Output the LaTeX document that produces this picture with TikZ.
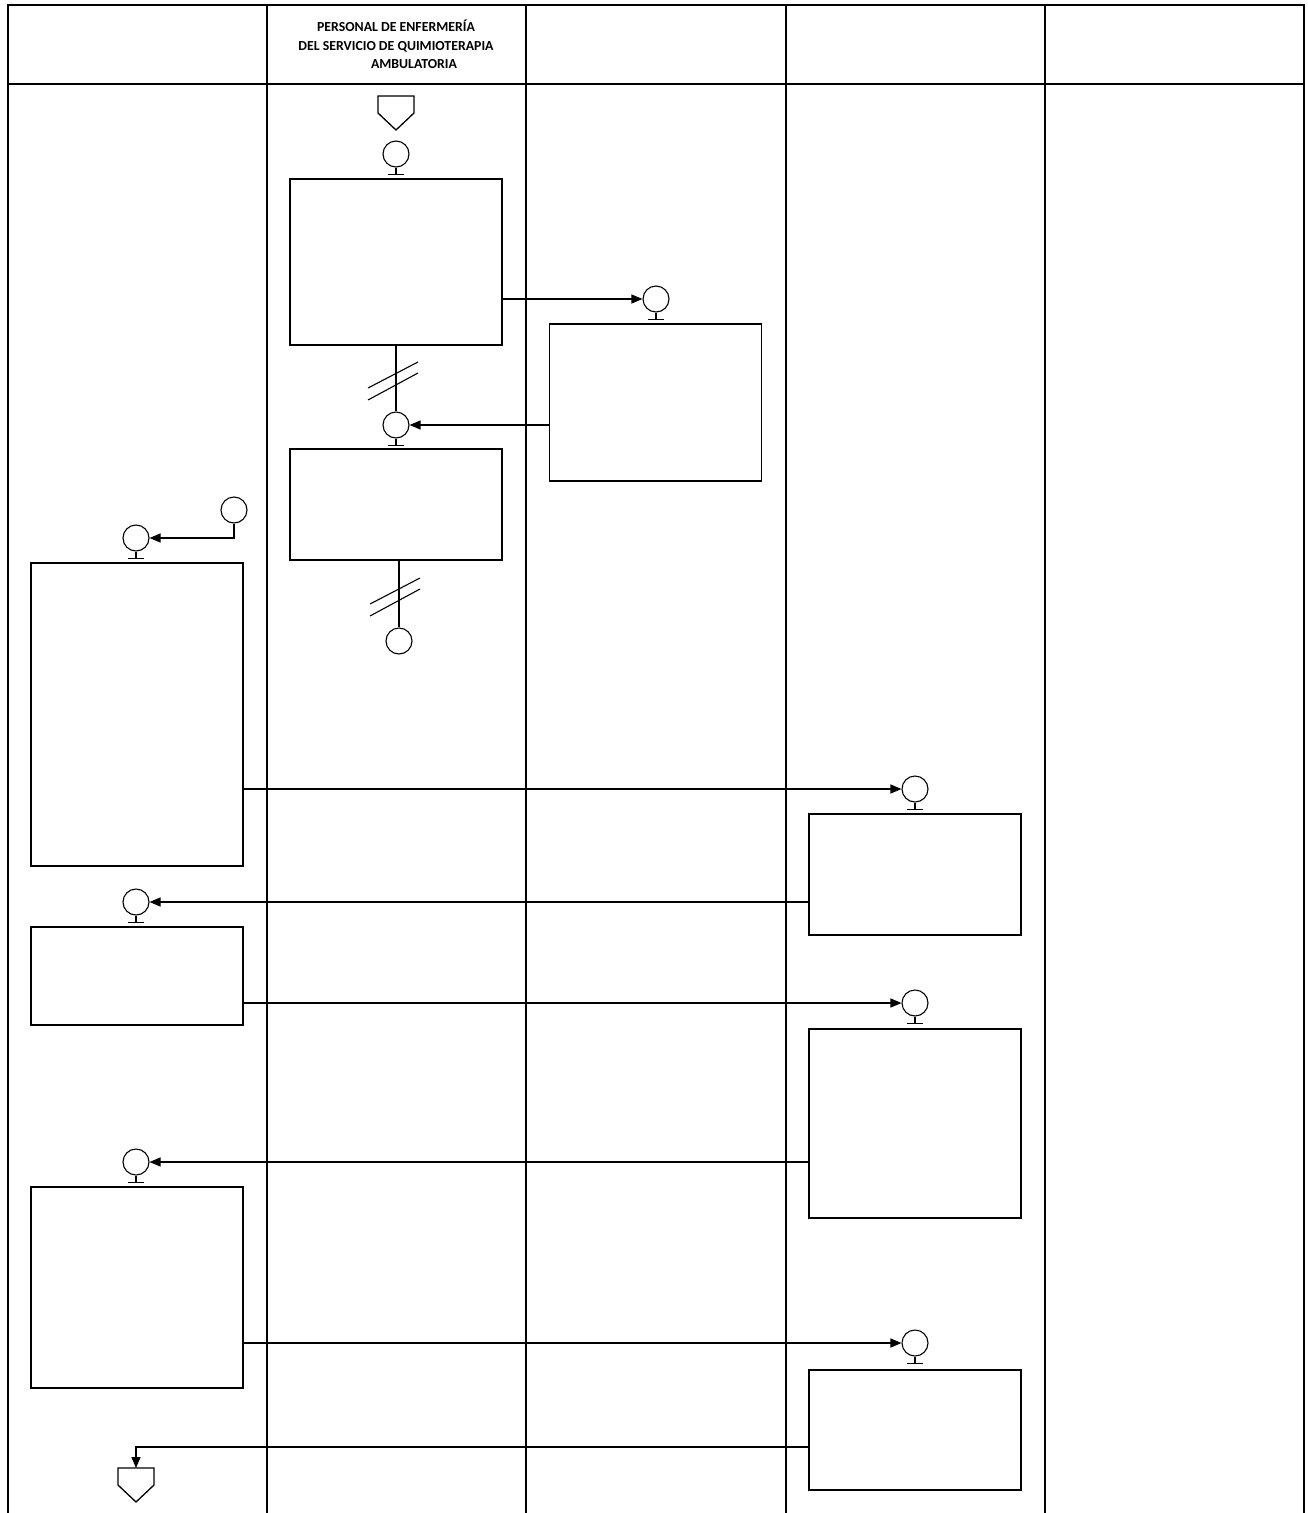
\documentclass[tikz,border=0pt]{standalone}
\usepackage{fontspec}
\setmainfont{Carlito}
\usetikzlibrary{arrows.meta}
\begin{document}
\begin{tikzpicture}[x=1pt,y=-1pt,line width=1.3pt,
  box/.style={draw,minimum width=212pt,inner sep=0pt},
  conn/.style={draw,circle,minimum size=26pt,inner sep=0pt,line width=1.1pt},
  flow/.style={-{Triangle[length=11pt,width=9pt]}},
  hdr/.style={font=\bfseries\fontsize{13.8}{15}\selectfont,inner sep=0pt,anchor=base},
  lane/.style={line width=1.4pt}]
\useasboundingbox (0,0) rectangle (1307,1513);
% lanes
\draw[lane] (8,1513) -- (8,5) -- (1304,5) -- (1304,1513);
\draw[lane] (8,84) -- (1304,84);
\foreach \x in {267,526,786,1045} \draw[lane] (\x,5) -- (\x,1513);
% header
\node[hdr] (h1) at (396,31) {PERSONAL DE ENFERMERÍA};
\node[hdr] (h2) at (396,50) {DEL SERVICIO DE QUIMIOTERAPIA};
\node[hdr] (h3) at (414,68) {AMBULATORIA};
% start pentagon
\coordinate (start) at (396,96);
\draw (start) ++(-18,0) -- ++(36,0) -- ++(0,17) -- ++(-18,17) -- ++(-18,-17) -- cycle;
% boxes
\node[box,minimum height=166pt] (A) at (396,262) {};
\node[box,minimum height=157pt] (B) at (655.5,402.5) {};
\node[box,minimum height=111pt] (C) at (396,504.5) {};
\node[box,minimum height=303pt] (D) at (137,714.5) {};
\node[box,minimum height=121pt] (E) at (915,874.5) {};
\node[box,minimum height=98pt] (F) at (137,976) {};
\node[box,minimum height=189pt] (G) at (915,1123.5) {};
\node[box,minimum height=201pt] (H) at (137,1287.5) {};
\node[box,minimum height=120pt] (I) at (915,1430) {};
% connectors
\node[conn] (c1) at (396,154) {};
\node[conn] (c2) at (656,299) {};
\node[conn] (c3) at (396,425) {};
\node[conn] (c4) at (399,641) {};
\node[conn] (c5) at (234,510) {};
\node[conn] (c6) at (136,538) {};
\node[conn] (c7) at (915,789) {};
\node[conn] (c8) at (136,902) {};
\node[conn] (c9) at (915,1003) {};
\node[conn] (c10) at (136,1162) {};
\node[conn] (c11) at (915,1343) {};
\foreach \n in {c1,c2,c3,c6,c7,c8,c9,c10,c11}
  \draw[line width=1.1pt] (\n.south) -- ++(0,7) ++(-8,0) -- ++(16,0);
% end pentagon
\coordinate (endp) at (136,1468);
\draw (endp) ++(-18,0) -- ++(36,0) -- ++(0,17) -- ++(-18,17) -- ++(-18,-17) -- cycle;
% flows
\draw[flow] (A.east |- c2) -- (c2.west);
\draw (A.south) -- (c3.north);
\draw[line width=1.1pt] (368,388) -- (418,362) (368,400) -- (418,373);
\draw[flow] (B.west |- c3) -- (c3.east);
\draw (C.south -| c4) -- (c4.north);
\draw[line width=1.1pt] (370,604) -- (420,578) (370,616) -- (420,589);
\draw[flow] (c5.south) |- (c6.east);
\draw[flow] (D.east |- c7) -- (c7.west);
\draw[flow] (E.east |- c8) ++(-212,0) -- (c8.east);
\draw[flow] (F.east |- c9) -- (c9.west);
\draw[flow] (G.west |- c10) -- (c10.east);
\draw[flow] (H.east |- c11) -- (c11.west);
\draw[flow] (I.west) ++(0,17) -| (endp);
\end{tikzpicture}
\end{document}
